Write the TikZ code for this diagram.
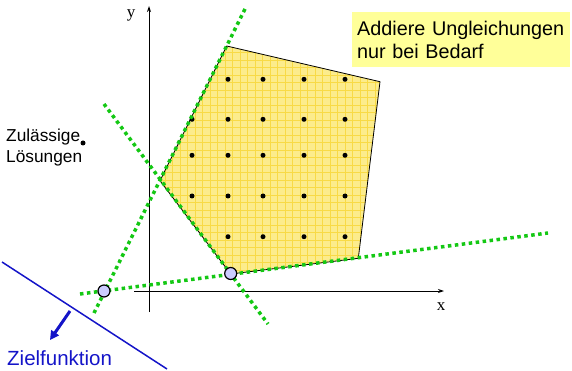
\documentclass[tikz,border=0pt]{standalone}
\usepackage{fontspec}
\setmainfont{Liberation Sans}
\newfontfamily\serifx{Liberation Serif}
\usetikzlibrary{arrows.meta}
\definecolor{lpgreen}{RGB}{20,200,20}
\definecolor{polyfill}{RGB}{252,236,140}
\definecolor{polygrid}{RGB}{248,218,70}
\definecolor{notefill}{RGB}{255,255,153}
\definecolor{zielblue}{RGB}{20,20,200}
\definecolor{vtxfill}{RGB}{204,204,255}
\tikzset{
  constraint/.style={draw=lpgreen, line width=3.5pt, dash pattern=on 3.5pt off 3.5pt},
  intpt/.style={circle, fill=black, inner sep=0pt, minimum size=5pt},
  vtx/.style={circle, draw=black, line width=1.2pt, fill=vtxfill, inner sep=0pt, minimum size=12pt},
  axis/.style={draw=black, line width=1pt},
}
\begin{document}
\begin{tikzpicture}[x=1pt,y=-1pt]
\useasboundingbox (0,0) rectangle (572,371);
% polygon vertices
\coordinate (P1) at (226.7,46);
\coordinate (P2) at (380,81.7);
\coordinate (P3) at (358.3,258.3);
\coordinate (P4) at (230.7,274);
\coordinate (P5) at (160,180.7);
% axes
\coordinate (yb) at (149,312);
\coordinate (yt) at (149,6);
\coordinate (xl) at (134,291);
\coordinate (xr) at (444,291);
\draw[axis,-{Stealth[length=6pt,width=4pt]}] (yb) -- (yt);
\draw[axis,-{Stealth[length=6pt,width=4pt]}] (xl) -- (xr);
\node[font=\serifx\fontsize{17}{17}\selectfont] (ylab) at (131,15) {y};
\node[font=\serifx\fontsize{17}{17}\selectfont] (xlab) at (441,307) {x};
% feasible region
\fill[polyfill] (P1) -- (P2) -- (P3) -- (P4) -- (P5) -- cycle;
\begin{scope}
\clip (P1) -- (P2) -- (P3) -- (P4) -- (P5) -- cycle;
\draw[polygrid, line width=0.5pt, step=7.5pt] (150,40) grid (390,280);
\end{scope}
\draw[black, line width=0.8pt] (P1) -- (P2) -- (P3) -- (P4) -- (P5) -- cycle;
% integer points
\foreach \x [count=\i] in {228,263,304,345} {\node[intpt] (ra\i) at (\x,79.3) {};}
\foreach \x [count=\i] in {192,228,263,304,345} {\node[intpt] (rb\i) at (\x,119.3) {};}
\foreach \x [count=\i] in {192,228,263,304,345} {\node[intpt] (rc\i) at (\x,155.3) {};}
\foreach \x [count=\i] in {192,228,263,304,345} {\node[intpt] (rd\i) at (\x,196) {};}
\foreach \x [count=\i] in {228,263,304,345} {\node[intpt] (re\i) at (\x,236.7) {};}
% constraint lines
\coordinate (g1a) at (245,9);
\coordinate (g1b) at (94,313);
\coordinate (g2a) at (104,104);
\coordinate (g2b) at (268,324);
\coordinate (g3a) at (80,294);
\coordinate (g3b) at (548,233);
\draw[constraint] (g1a) -- (g1b);
\draw[constraint] (g2a) -- (g2b);
\draw[constraint] (g3a) -- (g3b);
% optimal vertices
\node[vtx] (v1) at (104,291) {};
\node[vtx] (v2) at (230.7,273.5) {};
% objective function
\coordinate (za) at (2,262);
\coordinate (zb) at (167,369);
\draw[zielblue, line width=1.5pt] (za) -- (zb);
\coordinate (aa) at (70,311);
\coordinate (ab) at (50,340);
\draw[zielblue, line width=3pt, -{Triangle[length=9pt,width=9pt]}] (aa) -- (ab);
\node[zielblue, anchor=base west, inner sep=0pt, font=\fontsize{20.5}{20.5}\selectfont] (ziel) at (7,365) {Zielfunktion};
% feasible solutions label
\node[anchor=north west, inner sep=0pt, align=left, font=\fontsize{17.3}{21}\selectfont] (zul) at (6,129) {Zulässige\\Lösungen};
\node[intpt] (zdot) at (83,143) {};
% note
\node[anchor=north west, fill=notefill, inner xsep=5pt, inner ysep=0pt, minimum width=218pt, minimum height=55pt, text width=208pt, align=left, font=\fontsize{19.8}{23}\selectfont] (note) at (352,12) {Addiere Ungleichungen\\nur bei Bedarf};
\end{tikzpicture}
\end{document}
